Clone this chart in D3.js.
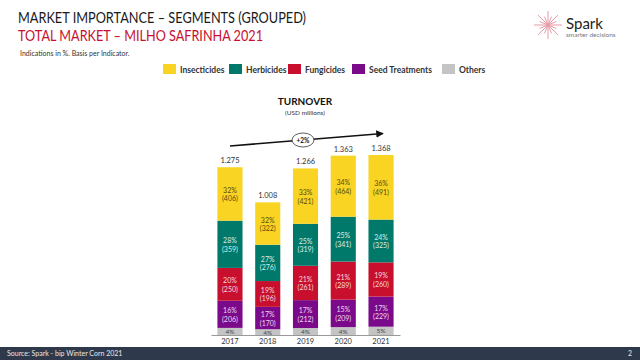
<!DOCTYPE html>
<html><head><meta charset="utf-8">
<script src="https://cdn.jsdelivr.net/npm/d3@7"></script>
<style>body{margin:0;background:#fff}svg{display:block}text{font-family:Lato,"Open Sans",sans-serif}</style>
</head><body><svg id="c" width="640" height="360"></svg>
<script>
const years = ["2017","2018","2019","2020","2021"];
const segments = ["Insecticides","Herbicides","Fungicides","Seed Treatments","Others"];
const colors = ["#F9D423","#00796B","#C8102E","#7A0A8A","#C4C4C4"];
const textColors = ["#5a4a10","#d8eee8","#f6d6dc","#ecd6f0","#444"];
const totals = [1275,1008,1266,1363,1368];
const totalLabels = ["1.275","1.008","1.266","1.363","1.368"];
const insecticides = [406,322,421,464,491];
const herbicides = [359,276,319,341,325];
const fungicides = [250,196,261,289,260];
const seedTreatments = [206,170,212,209,229];
const others = [54,44,53,60,63];
const pctInsecticides = [32,32,33,34,36];
const pctHerbicides = [28,27,25,25,24];
const pctFungicides = [20,19,21,21,19];
const pctSeed = [16,17,17,15,17];
const pctOthers = [4,4,4,4,5];
const growthLabel = "+2%";

const seriesVals = [insecticides,herbicides,fungicides,seedTreatments,others];
const seriesPct = [pctInsecticides,pctHerbicides,pctFungicides,pctSeed,pctOthers];

const svg = d3.select("#c");

// header
svg.append("text").attr("x",18).attr("y",23).attr("font-size",14.5).attr("fill","#1a1a1a")
  .attr("textLength",288).attr("lengthAdjust","spacingAndGlyphs")
  .text("MARKET IMPORTANCE – SEGMENTS (GROUPED)");
svg.append("text").attr("x",18).attr("y",41).attr("font-size",14.5).attr("fill","#C8102E")
  .attr("textLength",245).attr("lengthAdjust","spacingAndGlyphs")
  .text("TOTAL MARKET – MILHO SAFRINHA 2021");
svg.append("text").attr("x",20).attr("y",56).attr("font-size",7).attr("fill","#333")
  .text("Indications in %. Basis per Indicator.");

// logo
const lg = svg.append("g").attr("transform","translate(548,25)");
for(let i=0;i<16;i++){
  const a = i*Math.PI/8, r = (i%2===0)?14:9;
  lg.append("line").attr("x1",0).attr("y1",0).attr("x2",r*Math.cos(a)).attr("y2",r*Math.sin(a))
    .attr("stroke","#e79aa5").attr("stroke-width",1);
}
svg.append("text").attr("x",566).attr("y",29).attr("font-size",15).attr("fill","#222").text("Spark");
svg.append("text").attr("x",566).attr("y",37).attr("font-size",6.5).attr("fill","#777").text("smarter decisions");

// legend
const legX = [163,229,288,352,442];
segments.forEach((s,i)=>{
  svg.append("rect").attr("x",legX[i]).attr("y",64).attr("width",13).attr("height",10).attr("fill",colors[i]);
  svg.append("text").attr("x",legX[i]+17).attr("y",73).attr("font-size",8.5).attr("font-weight","bold")
    .attr("fill","#333").text(s);
});

// chart title
svg.append("text").attr("x",305).attr("y",105).attr("text-anchor","middle").attr("font-size",10)
  .attr("font-weight","bold").attr("fill","#111").text("TURNOVER");
svg.append("text").attr("x",305).attr("y",115).attr("text-anchor","middle").attr("font-size",6.5)
  .attr("fill","#333").text("(USD millions)");

const x = d3.scaleBand().domain(years).range([211,400]).paddingInner(0.335).paddingOuter(0.17);
const y = d3.scaleLinear().domain([0,1368]).range([335,155]);

// stacked: Others at bottom, Insecticides at top
const rows = years.map((yr,i)=>{const o={year:yr}; segments.forEach((s,j)=>o[s]=seriesVals[j][i]); return o;});
const stack = d3.stack().keys(segments.slice().reverse())(rows);
stack.forEach(layer=>{
  const j = segments.indexOf(layer.key);
  const g = svg.append("g");
  layer.forEach((d,i)=>{
    const x0 = x(years[i]), w = x.bandwidth();
    const y0 = y(d[1]), h = y(d[0])-y(d[1]);
    g.append("rect").attr("x",x0).attr("y",y0).attr("width",w).attr("height",h).attr("fill",colors[j]);
    const cx = x0+w/2, cy = y0+h/2;
    if(j<4){
      g.append("text").attr("x",cx).attr("y",cy-1).attr("text-anchor","middle").attr("font-size",7)
        .attr("fill",textColors[j]).text(seriesPct[j][i]+"%");
      g.append("text").attr("x",cx).attr("y",cy+7.5).attr("text-anchor","middle").attr("font-size",7)
        .attr("fill",textColors[j]).text("("+seriesVals[j][i]+")");
    } else {
      g.append("text").attr("x",cx).attr("y",cy+2.5).attr("text-anchor","middle").attr("font-size",6.5)
        .attr("fill",textColors[j]).text(seriesPct[j][i]+"%");
    }
  });
});

// totals
years.forEach((yr,i)=>{
  svg.append("text").attr("x",x(yr)+x.bandwidth()/2).attr("y",y(totals[i])-4).attr("text-anchor","middle")
    .attr("font-size",7.5).attr("fill","#333").text(totalLabels[i]);
});

// axis
const ax = svg.append("g").attr("transform","translate(0,335)").call(d3.axisBottom(x).tickSize(0).tickPadding(4));
ax.select(".domain").attr("stroke","#999").attr("stroke-width",1);
ax.selectAll("text").attr("font-size",7.5).attr("fill","#333").style("font-family","Lato, sans-serif");

// growth arrow
const defs = svg.append("defs");
defs.append("marker").attr("id","ah").attr("viewBox","0 0 10 10").attr("refX",9).attr("refY",5)
  .attr("markerWidth",5).attr("markerHeight",5).attr("orient","auto")
  .append("path").attr("d","M0,0L10,5L0,10z").attr("fill","#111");
svg.append("line").attr("x1",230).attr("y1",146).attr("x2",383).attr("y2",133.5)
  .attr("stroke","#111").attr("stroke-width",1.5).attr("marker-end","url(#ah)");
svg.append("ellipse").attr("cx",303).attr("cy",140).attr("rx",11).attr("ry",7)
  .attr("fill","#fff").attr("stroke","#333").attr("stroke-width",0.8);
svg.append("text").attr("x",303).attr("y",142.5).attr("text-anchor","middle").attr("font-size",6.5)
  .attr("font-weight","bold").attr("fill","#111").text(growthLabel);

// footer
svg.append("rect").attr("x",0).attr("y",347).attr("width",640).attr("height",13).attr("fill","#2E3A4B");
svg.append("text").attr("x",7).attr("y",356).attr("font-size",7).attr("fill","#e8e8e8").text("Source: Spark - bip Winter Corn 2021");
svg.append("text").attr("x",628).attr("y",356).attr("font-size",7).attr("fill","#e8e8e8").text("2");
</script></body></html>
